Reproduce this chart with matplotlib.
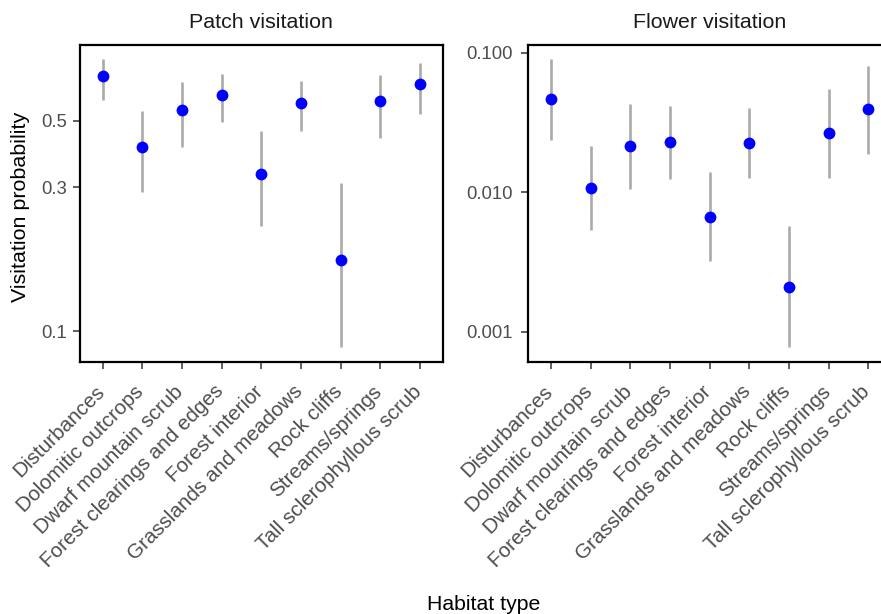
import matplotlib
matplotlib.use("Agg")
import matplotlib.pyplot as plt
from matplotlib.ticker import FixedLocator, NullLocator
from matplotlib.transforms import ScaledTranslation
import numpy as np

plt.rcParams['font.family'] = ['Liberation Sans', 'DejaVu Sans']

habitats = ["Disturbances", "Dolomitic outcrops", "Dwarf mountain scrub",
            "Forest clearings and edges", "Forest interior", "Grasslands and meadows",
            "Rock cliffs", "Streams/springs", "Tall sclerophyllous scrub"]

patch_est = [0.703, 0.408, 0.541, 0.609, 0.333, 0.571, 0.172, 0.580, 0.661]
patch_lo = [0.585, 0.289, 0.407, 0.496, 0.223, 0.461, 0.0883, 0.436, 0.525]
patch_hi = [0.798, 0.539, 0.670, 0.713, 0.462, 0.676, 0.310, 0.708, 0.775]

flower_est = [0.0468, 0.01073, 0.0215, 0.0230, 0.00671, 0.0227, 0.00211, 0.0266, 0.0395]
flower_lo = [0.0237, 0.00539, 0.01056, 0.0125, 0.00322, 0.0126, 0.000777, 0.01265, 0.01875]
flower_hi = [0.0897, 0.0214, 0.0431, 0.0417, 0.0139, 0.0404, 0.00572, 0.0548, 0.0808]

patch_ticks = [0.1, 0.3, 0.5]
patch_ticklabels = ["0.1", "0.3", "0.5"]
flower_ticks = [0.001, 0.010, 0.100]
flower_ticklabels = ["0.001", "0.010", "0.100"]

W, H = 881, 614
fig = plt.figure(figsize=(W / 100, H / 100), dpi=100)

def px_axes(x0, y0, x1, y1):
    return fig.add_axes([x0 / W, 1 - y1 / H, (x1 - x0) / W, (y1 - y0) / H])

ax1 = px_axes(80, 45, 442.7, 361.7)
ax2 = px_axes(528.3, 45, 891, 361.7)

def panel(ax, est, lo, hi, ticks, ticklabels, title, ylim, cx, ypad):
    x = np.arange(len(habitats))
    ax.set_yscale('log')
    ax.vlines(x, lo, hi, color='#aaaaaa', lw=1.9, zorder=1)
    ax.plot(x, est, 'o', color='#0000ff', ms=8.5, mec='none', zorder=2)
    ax.set_xlim(-0.572, len(habitats) - 1 + 0.572)
    ax.set_ylim(*ylim)
    ax.yaxis.set_major_locator(FixedLocator(ticks))
    ax.yaxis.set_minor_locator(NullLocator())
    ax.set_yticklabels(ticklabels)
    ax.set_xticks(x)
    ax.set_xticklabels(habitats, rotation=45, ha='right', va='top',
                       rotation_mode='anchor')
    ax.tick_params(axis='both', which='major', length=5, width=1.1,
                   color='#333333', labelcolor='#4d4d4d')
    ax.tick_params(axis='x', labelsize=14.9, pad=3)
    ax.tick_params(axis='y', labelsize=13.3, pad=ypad)
    off = ScaledTranslation(-8 / 100, -9 / 100, fig.dpi_scale_trans)
    for lab in ax.get_xticklabels():
        lab.set_transform(lab.get_transform() + off)
    for s in ax.spines.values():
        s.set_linewidth(1.6)
        s.set_color('black')
    fig.text(cx / W, 1 - 28.3 / H, title, ha='center', va='baseline',
             fontsize=15.4, color='#1a1a1a')

panel(ax1, patch_est, patch_lo, patch_hi, patch_ticks, patch_ticklabels,
      "Patch visitation", (0.0791, 0.891), (80 + 442.7) / 2, 4.5)
panel(ax2, flower_est, flower_lo, flower_hi, flower_ticks, flower_ticklabels,
      "Flower visitation", (0.000612, 0.1138), (528.3 + 891) / 2, 6.5)

fig.text(21 / W, 1 - 207 / H, "Visitation probability", rotation=90,
         ha='center', va='center', fontsize=15.4, color='black')
fig.text(484 / W, 1 - 610.5 / H, "Habitat type", ha='center', va='baseline',
         fontsize=15.3, color='black')

fig.savefig("out.png", dpi=100)
